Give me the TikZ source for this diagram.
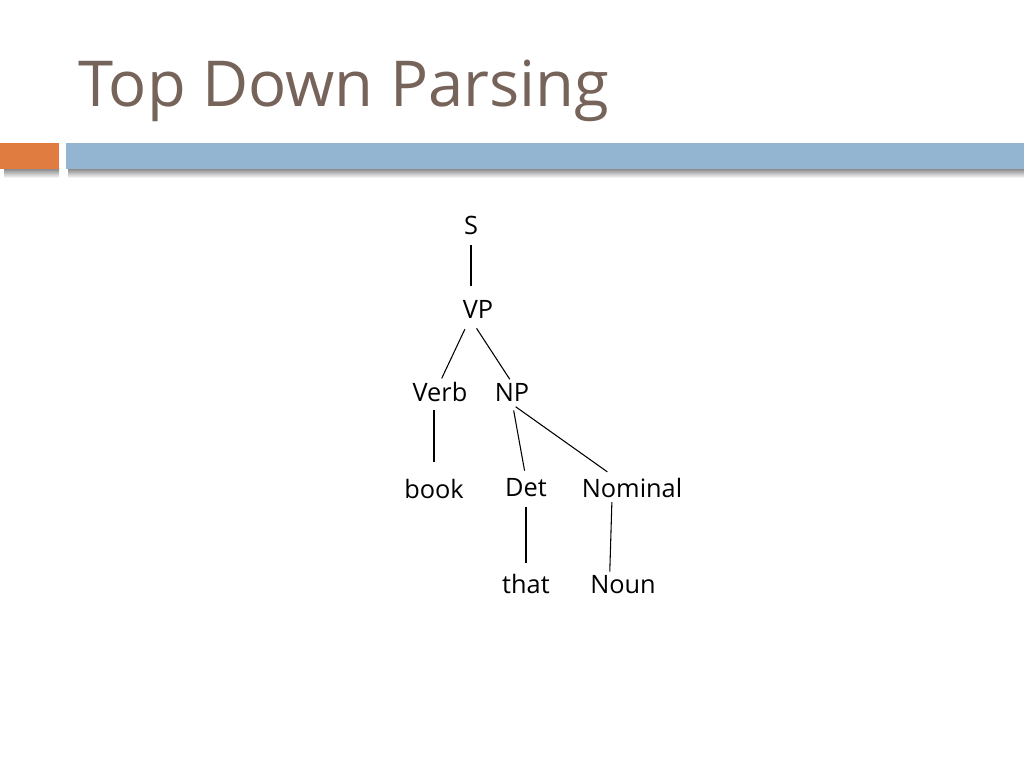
\documentclass[tikz,border=0pt]{standalone}
\usepackage{fontspec}
\setmainfont{Open Sans}
\usetikzlibrary{calc}

\definecolor{titlebrown}{RGB}{118,99,89}
\definecolor{barorange}{RGB}{224,124,63}
\definecolor{barblue}{RGB}{147,181,210}

\begin{document}
\begin{tikzpicture}
    [
        x=0.75pt, y=-0.75pt,
        word/.style={inner sep=0pt, font=\fontsize{19}{23}\selectfont},
        branch/.style={line width=0.8pt}
    ]

    \useasboundingbox (0, 0) rectangle (1024, 768);

    % title and bars
    \node [anchor=base west, inner sep=0pt, text=titlebrown, font=\fontsize{47.5}{57}\selectfont] (title) at (78, 106) {Top Down Parsing};
    \shade [top color=black!50, bottom color=white] (4, 168) rectangle (59, 178);
    \shade [top color=black!50, bottom color=white] (68, 168) rectangle (1024, 178);
    \fill [barorange] (0, 143) rectangle (59, 169);
    \fill [barblue] (66, 143) rectangle (1024, 169);

    % tree
    \node [word] (S) at (471, 225) {S};
    \node [word] (VP) at (478, 309) {VP};
    \node [word] (Verb) at (440, 392) {Verb};
    \node [word] (NP) at (512, 392) {NP};
    \node [word] (book) at (434, 489) {book};
    \node [word] (Det) at (526, 488) {Det};
    \node [word] (Nominal) at (632, 488) {Nominal};
    \node [word] (that) at (526, 584) {that};
    \node [word] (Noun) at (623, 585) {Noun};

    \draw [branch, shorten <=8pt, shorten >=10pt] (S.south) -- (S.south |- VP.north);
    \draw [branch, shorten <=9pt, shorten >=3pt] ([xshift=-6pt]VP.south) -- (Verb.north);
    \draw [branch, shorten <=9pt, shorten >=3pt] ([xshift=-6pt]VP.south) -- (NP.north);
    \draw [branch, shorten <=6pt, shorten >=13pt] (book.north |- Verb.south) -- (book.north);
    \draw [branch, shorten <=7pt, shorten >=6pt] (NP.south) -- (Det.north);
    \draw [branch, shorten <=7pt, shorten >=8pt] ([xshift=-3pt]NP.south) -- ([xshift=-12pt]Nominal.north);
    \draw [branch, shorten <=7pt, shorten >=8pt] (Det.south) -- (that.north);
    \draw [branch, shorten <=3pt, shorten >=3pt] ([xshift=-15pt]Nominal.south) -- ([xshift=-10pt]Noun.north);
\end{tikzpicture}
\end{document}
